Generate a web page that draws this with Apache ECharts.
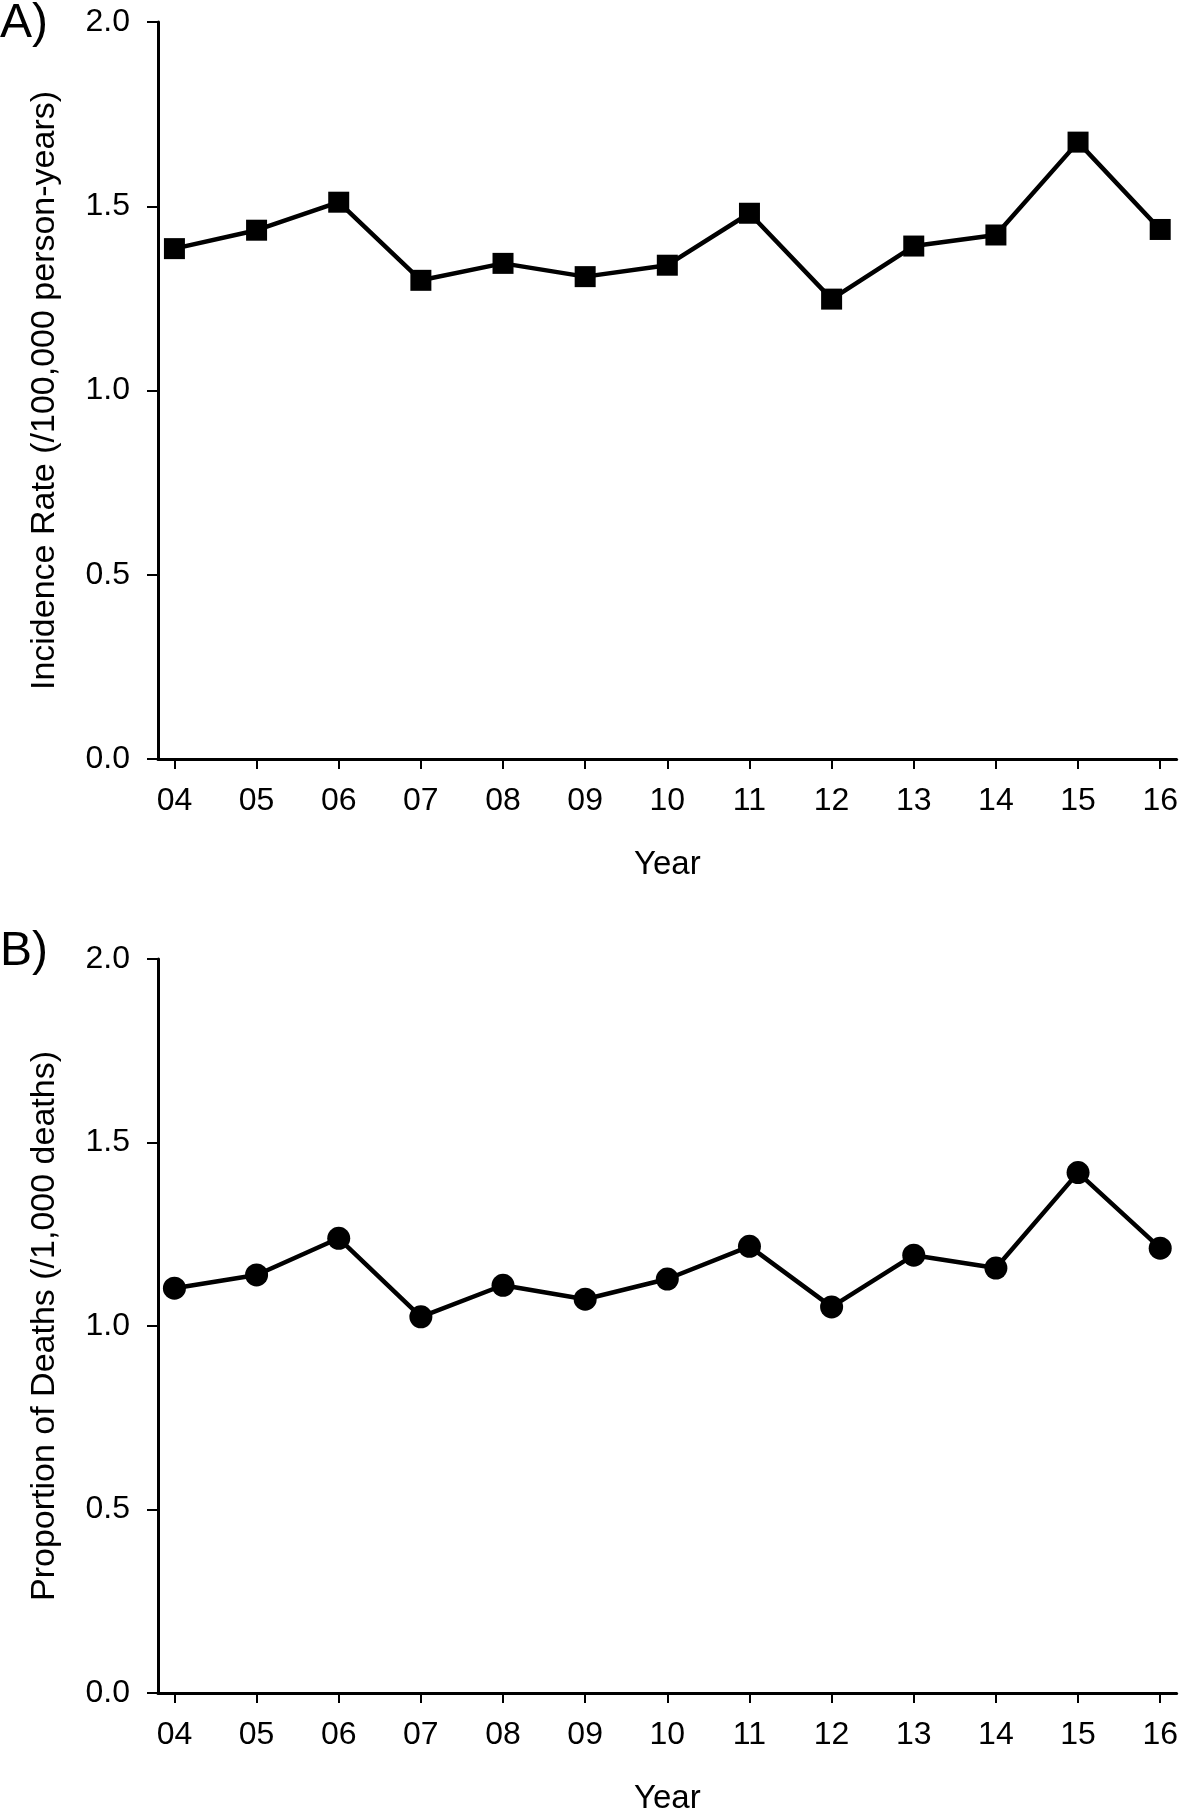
<!DOCTYPE html>
<html>
<head>
<meta charset="utf-8">
<script src="https://cdn.jsdelivr.net/npm/echarts@6/dist/echarts.min.js"></script>
<style>
html,body{margin:0;padding:0;background:#fff;}
#chart{width:1181px;height:1816px;}
</style>
</head>
<body>
<div id="chart"></div>
<script>
// Data
var years = [2004, 2005, 2006, 2007, 2008, 2009, 2010, 2011, 2012, 2013, 2014, 2015, 2016];
var incidenceRate = [1.385, 1.435, 1.511, 1.299, 1.345, 1.309, 1.340, 1.481, 1.248, 1.392, 1.422, 1.674, 1.437];
var proportionDeaths = [1.103, 1.139, 1.239, 1.025, 1.111, 1.073, 1.128, 1.217, 1.052, 1.193, 1.158, 1.418, 1.212];
var yTicks = [0, 0.5, 1.0, 1.5, 2.0];

var FONT = 'Arial, "Liberation Sans", Helvetica, sans-serif';

function pairs(vals) {
  return years.map(function (y, i) { return [y, vals[i]]; });
}

function xAxisCfg(gridIndex) {
  return {
    type: 'value',
    gridIndex: gridIndex,
    min: years[0] - 0.2,
    max: years[years.length - 1] + 0.2,
    name: 'Year',
    nameLocation: 'middle',
    nameGap: 89,
    nameTextStyle: { color: '#000', fontSize: 33, fontFamily: FONT },
    axisLine: { show: true, onZero: false, lineStyle: { color: '#000', width: 3 } },
    axisTick: { show: true, length: 10, customValues: years, lineStyle: { color: '#000', width: 2 } },
    axisLabel: {
      customValues: years, color: '#000', fontSize: 32, fontFamily: FONT, margin: 26,
      formatter: function (v) { return String(Math.round(v)).slice(2); }
    },
    splitLine: { show: false }
  };
}

function yAxisCfg(gridIndex, name) {
  return {
    type: 'value',
    gridIndex: gridIndex,
    min: 0,
    max: 2,
    interval: 0.5,
    name: name,
    nameLocation: 'middle',
    nameGap: 96,
    nameTextStyle: { color: '#000', fontSize: 34, fontFamily: FONT },
    axisLine: { show: true, lineStyle: { color: '#000', width: 3 } },
    axisTick: { show: true, length: 11, lineStyle: { color: '#000', width: 2 } },
    axisLabel: {
      color: '#000', fontSize: 32, fontFamily: FONT, margin: 28,
      formatter: function (v) { return v.toFixed(1); }
    },
    splitLine: { show: false }
  };
}

var chart = echarts.init(document.getElementById('chart'), null, { renderer: 'canvas' });
chart.setOption({
  backgroundColor: '#fff',
  animation: false,
  graphic: [
    { type: 'text', left: 0, top: 0, style: { text: 'A)', fontSize: 48, fontFamily: FONT, fill: '#000' } },
    { type: 'text', left: 0, top: 928, style: { text: 'B)', fontSize: 48, fontFamily: FONT, fill: '#000' } }
  ],
  grid: [
    { left: 158, top: 22, width: 1020, height: 737, containLabel: false },
    { left: 158, top: 959, width: 1020, height: 736, containLabel: false }
  ],
  xAxis: [xAxisCfg(0), xAxisCfg(1)],
  yAxis: [
    yAxisCfg(0, 'Incidence Rate (/100,000 person-years)'),
    yAxisCfg(1, 'Proportion of Deaths (/1,000 deaths)')
  ],
  series: [
    {
      type: 'line', xAxisIndex: 0, yAxisIndex: 0,
      data: pairs(incidenceRate),
      symbol: 'rect', symbolSize: 21,
      lineStyle: { color: '#000', width: 4.5 },
      itemStyle: { color: '#000' }
    },
    {
      type: 'line', xAxisIndex: 1, yAxisIndex: 1,
      data: pairs(proportionDeaths),
      symbol: 'circle', symbolSize: 23,
      lineStyle: { color: '#000', width: 4.5 },
      itemStyle: { color: '#000' }
    }
  ]
});
</script>
</body>
</html>
